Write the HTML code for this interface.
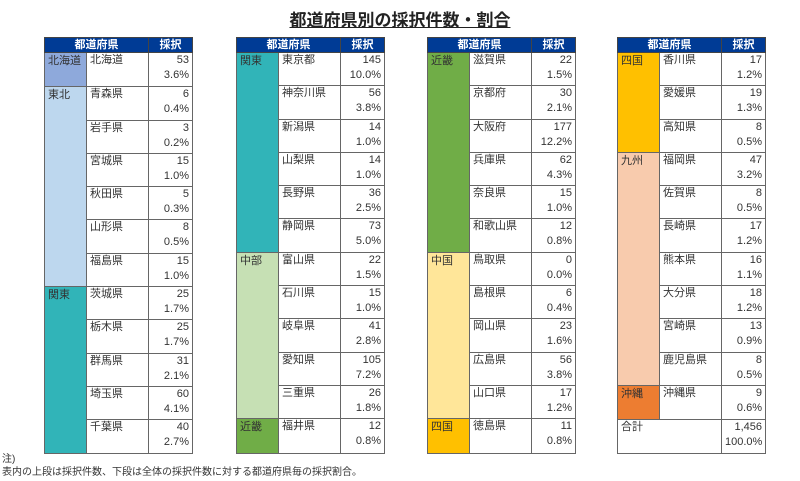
<!DOCTYPE html>
<html><head><meta charset="utf-8">
<style>
body{margin:0;width:800px;height:481px;background:#fff;font-family:"Liberation Sans","Noto Sans CJK JP",sans-serif;position:relative;overflow:hidden;color:#333}
.t{position:absolute;top:37px;border-collapse:collapse;table-layout:fixed;font-size:11px}
.t td{border:1px solid #666;padding:0 3px;vertical-align:top;height:32.3px;line-height:15px;overflow:hidden;white-space:nowrap}
.t tr.h td{height:14px;background:#003b95;color:#fff;font-weight:bold;text-align:center;vertical-align:middle;line-height:14px;border-color:#444}
.t td.v{text-align:right}
.t td.r{padding-top:1px}
h1{position:absolute;top:6px;left:0;width:800px;text-align:center;margin:0;font-size:17px;font-weight:bold;text-decoration:underline;color:#222}
.n{position:absolute;left:2px;font-size:10px;color:#333}
</style></head><body>
<h1>都道府県別の採択件数・割合</h1>

<table class="t" style="left:44px;width:148px">
<colgroup><col style="width:42px"><col style="width:62px"><col style="width:44px"></colgroup>
<tr class="h"><td colspan="2">都道府県</td><td>採択</td></tr>
<tr><td class="r" style="background:#8ea9db">北海道</td><td>北海道</td><td class="v">53<br>3.6%</td></tr>
<tr><td class="r" rowspan="6" style="background:#bdd7ee">東北</td><td>青森県</td><td class="v">6<br>0.4%</td></tr>
<tr><td>岩手県</td><td class="v">3<br>0.2%</td></tr>
<tr><td>宮城県</td><td class="v">15<br>1.0%</td></tr>
<tr><td>秋田県</td><td class="v">5<br>0.3%</td></tr>
<tr><td>山形県</td><td class="v">8<br>0.5%</td></tr>
<tr><td>福島県</td><td class="v">15<br>1.0%</td></tr>
<tr><td class="r" rowspan="5" style="background:#31b4b8">関東</td><td>茨城県</td><td class="v">25<br>1.7%</td></tr>
<tr><td>栃木県</td><td class="v">25<br>1.7%</td></tr>
<tr><td>群馬県</td><td class="v">31<br>2.1%</td></tr>
<tr><td>埼玉県</td><td class="v">60<br>4.1%</td></tr>
<tr><td>千葉県</td><td class="v">40<br>2.7%</td></tr>
</table>

<table class="t" style="left:236px;width:148px">
<colgroup><col style="width:42px"><col style="width:62px"><col style="width:44px"></colgroup>
<tr class="h"><td colspan="2">都道府県</td><td>採択</td></tr>
<tr><td class="r" rowspan="6" style="background:#31b4b8">関東</td><td>東京都</td><td class="v">145<br>10.0%</td></tr>
<tr><td>神奈川県</td><td class="v">56<br>3.8%</td></tr>
<tr><td>新潟県</td><td class="v">14<br>1.0%</td></tr>
<tr><td>山梨県</td><td class="v">14<br>1.0%</td></tr>
<tr><td>長野県</td><td class="v">36<br>2.5%</td></tr>
<tr><td>静岡県</td><td class="v">73<br>5.0%</td></tr>
<tr><td class="r" rowspan="5" style="background:#c6e0b4">中部</td><td>富山県</td><td class="v">22<br>1.5%</td></tr>
<tr><td>石川県</td><td class="v">15<br>1.0%</td></tr>
<tr><td>岐阜県</td><td class="v">41<br>2.8%</td></tr>
<tr><td>愛知県</td><td class="v">105<br>7.2%</td></tr>
<tr><td>三重県</td><td class="v">26<br>1.8%</td></tr>
<tr><td class="r" style="background:#70ad47">近畿</td><td>福井県</td><td class="v">12<br>0.8%</td></tr>
</table>

<table class="t" style="left:427px;width:148px">
<colgroup><col style="width:42px"><col style="width:62px"><col style="width:44px"></colgroup>
<tr class="h"><td colspan="2">都道府県</td><td>採択</td></tr>
<tr><td class="r" rowspan="6" style="background:#70ad47">近畿</td><td>滋賀県</td><td class="v">22<br>1.5%</td></tr>
<tr><td>京都府</td><td class="v">30<br>2.1%</td></tr>
<tr><td>大阪府</td><td class="v">177<br>12.2%</td></tr>
<tr><td>兵庫県</td><td class="v">62<br>4.3%</td></tr>
<tr><td>奈良県</td><td class="v">15<br>1.0%</td></tr>
<tr><td>和歌山県</td><td class="v">12<br>0.8%</td></tr>
<tr><td class="r" rowspan="5" style="background:#ffe699">中国</td><td>鳥取県</td><td class="v">0<br>0.0%</td></tr>
<tr><td>島根県</td><td class="v">6<br>0.4%</td></tr>
<tr><td>岡山県</td><td class="v">23<br>1.6%</td></tr>
<tr><td>広島県</td><td class="v">56<br>3.8%</td></tr>
<tr><td>山口県</td><td class="v">17<br>1.2%</td></tr>
<tr><td class="r" style="background:#ffc000">四国</td><td>徳島県</td><td class="v">11<br>0.8%</td></tr>
</table>

<table class="t" style="left:617px;width:148px">
<colgroup><col style="width:42px"><col style="width:62px"><col style="width:44px"></colgroup>
<tr class="h"><td colspan="2">都道府県</td><td>採択</td></tr>
<tr><td class="r" rowspan="3" style="background:#ffc000">四国</td><td>香川県</td><td class="v">17<br>1.2%</td></tr>
<tr><td>愛媛県</td><td class="v">19<br>1.3%</td></tr>
<tr><td>高知県</td><td class="v">8<br>0.5%</td></tr>
<tr><td class="r" rowspan="7" style="background:#f8cbad">九州</td><td>福岡県</td><td class="v">47<br>3.2%</td></tr>
<tr><td>佐賀県</td><td class="v">8<br>0.5%</td></tr>
<tr><td>長崎県</td><td class="v">17<br>1.2%</td></tr>
<tr><td>熊本県</td><td class="v">16<br>1.1%</td></tr>
<tr><td>大分県</td><td class="v">18<br>1.2%</td></tr>
<tr><td>宮崎県</td><td class="v">13<br>0.9%</td></tr>
<tr><td>鹿児島県</td><td class="v">8<br>0.5%</td></tr>
<tr><td class="r" style="background:#ed7d31">沖縄</td><td>沖縄県</td><td class="v">9<br>0.6%</td></tr>
<tr><td colspan="2">合計</td><td class="v">1,456<br>100.0%</td></tr>
</table>

<div class="n" style="top:450px">注)</div>
<div class="n" style="top:463px">表内の上段は採択件数、下段は全体の採択件数に対する都道府県毎の採択割合。</div>
</body></html>
